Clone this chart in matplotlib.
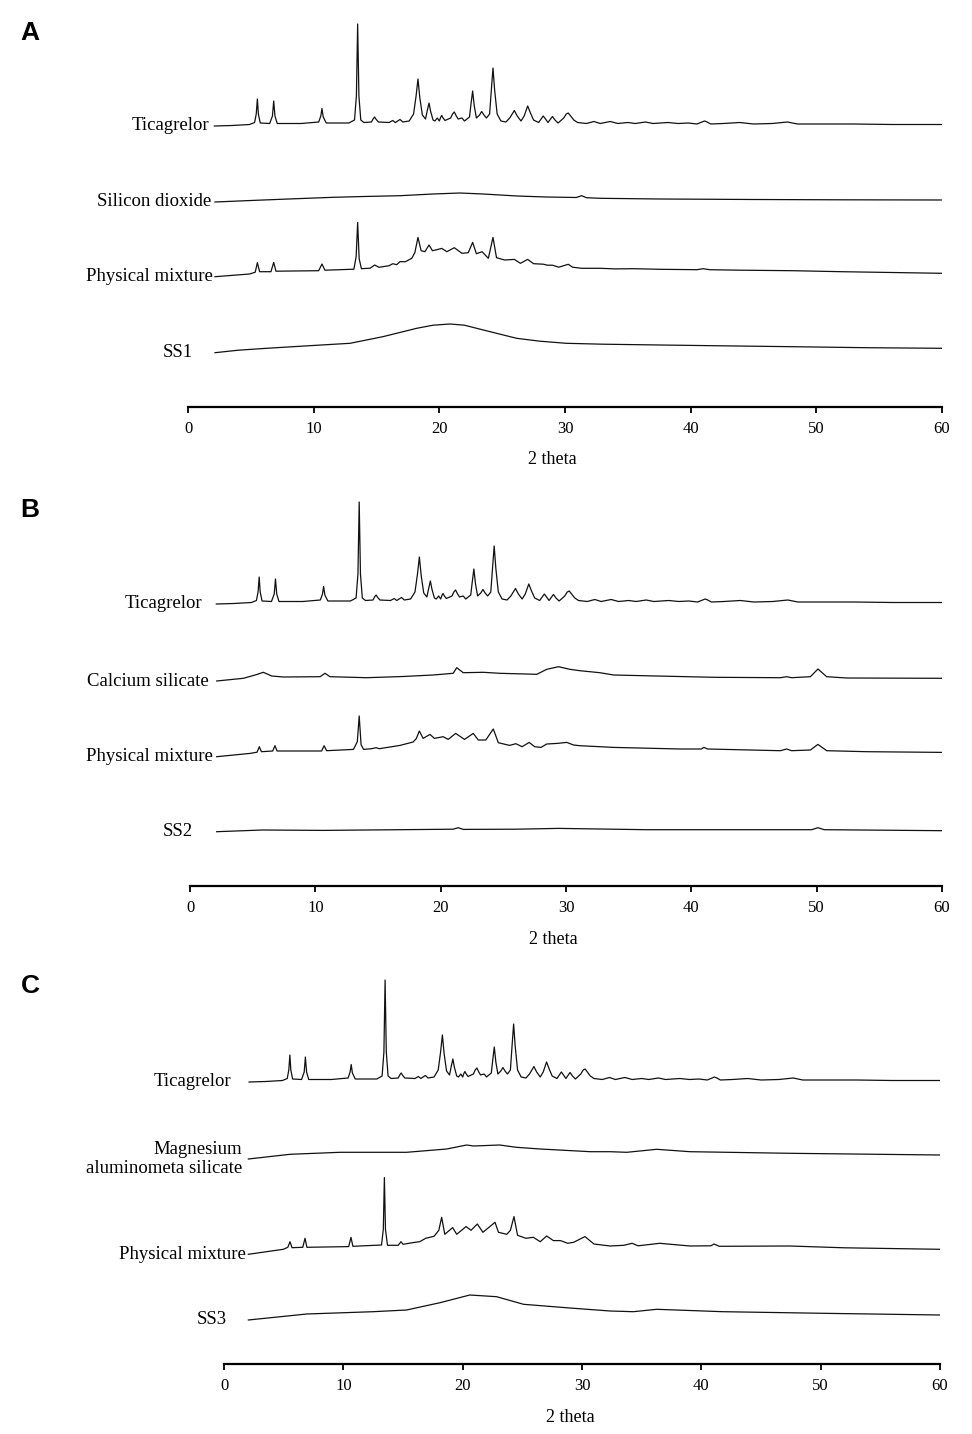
import numpy as np
import matplotlib.pyplot as plt

# XRD patterns, (2theta, relative intensity)
ticagrelor = [(2.1, 0), (3.5, 0.5), (4.9, 1.5), (5.3, 3.5), (5.43, 12), (5.52, 27), (5.6, 12), (5.75, 3),
              (6.5, 2.5), (6.72, 10), (6.82, 25), (6.92, 10), (7.1, 2.5), (9.0, 2.5), (10.4, 4), (10.57, 10),
              (10.66, 17.5), (10.76, 9), (11.0, 3), (12.8, 3), (13.25, 6), (13.4, 30), (13.5, 102), (13.6, 30),
              (13.75, 6), (14.0, 3.5), (14.6, 4), (14.75, 7.5), (14.85, 9), (14.95, 7), (15.15, 4), (16.0, 3.5),
              (16.29, 5.5), (16.5, 3.5), (16.87, 6.5), (17.1, 4), (17.6, 5), (17.95, 12), (18.15, 30), (18.3, 47),
              (18.45, 28), (18.65, 11), (18.9, 7), (19.05, 16), (19.18, 23), (19.3, 15), (19.5, 6), (19.65, 5),
              (19.84, 8), (20.0, 5), (20.1, 8.5), (20.19, 10.5), (20.3, 8), (20.45, 5.5), (20.9, 8), (21.05, 12),
              (21.19, 14), (21.35, 10), (21.5, 7), (21.8, 8), (22.0, 5), (22.4, 9), (22.52, 22), (22.65, 35),
              (22.78, 20), (22.95, 8), (23.2, 11), (23.37, 14.5), (23.55, 11), (23.75, 8), (24.0, 12),
              (24.15, 38), (24.27, 58), (24.4, 36), (24.6, 12), (24.9, 5), (25.3, 4), (25.6, 8), (25.97, 15.5),
              (26.2, 10), (26.5, 5), (26.75, 10), (27.03, 20), (27.25, 13), (27.5, 6), (27.9, 3.5), (28.1, 7),
              (28.27, 10), (28.45, 7), (28.65, 3.5), (28.85, 7), (29.0, 9.5), (29.2, 6), (29.45, 3), (29.9, 8),
              (30.1, 12), (30.26, 13), (30.45, 10), (30.7, 6), (31.0, 3.5), (31.7, 2.5), (32.3, 4.5), (32.8, 2.5),
              (33.6, 4.5), (34.2, 2.5), (35.0, 3.5), (35.6, 2.5), (36.4, 4), (37.0, 2.5), (38.2, 3.5), (39.0, 2.5),
              (39.8, 3), (40.5, 2), (40.9, 4), (41.1, 5), (41.3, 4), (41.6, 2), (42.6, 2.5), (43.9, 3.5),
              (45.0, 2), (46.5, 2.5), (47.7, 4), (48.5, 2), (50.5, 2), (53.0, 2), (56.0, 1.5), (60.0, 1.5)]

silicon_dioxide = [(2.15, 0), (5, 1.5), (8, 3), (11.56, 4.7), (14, 5.5), (16.87, 6.3), (19.5, 8), (21.64, 9),
                   (23.47, 8), (26.2, 6), (28.5, 5), (30.9, 4.5), (31.33, 6.3), (31.7, 4.3), (32.8, 3.7),
                   (37.56, 3), (45, 2.5), (52, 2.2), (60, 2)]

pm_a = [(2.15, 0), (4.9, 2.7), (5.35, 4.5), (5.52, 14), (5.7, 5), (6.6, 5), (6.82, 14.3), (7.0, 5.5), (10.4, 6),
        (10.66, 12.7), (10.9, 6.5), (13.2, 7.5), (13.38, 20), (13.5, 54.3), (13.62, 18), (13.8, 8), (14.5, 8.5),
        (14.85, 11.7), (15.2, 9.4), (16.0, 11), (16.3, 13), (16.6, 12), (16.87, 15), (17.3, 15), (17.8, 18.3),
        (18.05, 24), (18.3, 39.3), (18.55, 26), (18.85, 25), (19.18, 31.7), (19.45, 26), (19.8, 27),
        (20.19, 28.3), (20.6, 25), (21.19, 29), (21.8, 23.4), (22.3, 24), (22.65, 34.3), (22.95, 23),
        (23.4, 25), (23.9, 18.4), (24.27, 39.3), (24.55, 19), (25.2, 16.7), (25.97, 17.3), (26.45, 13.4),
        (27.03, 17.3), (27.5, 13), (28.27, 12.5), (28.6, 11.5), (29.0, 11.5), (29.5, 9.5), (30.26, 12.4),
        (30.6, 9.5), (31.33, 8.4), (32.8, 8.4), (34, 7.8), (35.5, 8), (37.56, 7.4), (40.5, 7), (41.0, 8),
        (41.5, 7), (44, 6.5), (48.1, 6), (52, 5), (56, 4.2), (60, 3.4)]

ss1 = [(2.15, 0), (4, 2.5), (6.26, 4.4), (9, 6.5), (12.9, 9.4), (15.5, 16), (18.2, 24.4), (19.5, 27.5),
       (20.85, 28.7), (22, 27.5), (23.5, 22.7), (26.15, 14.4), (28, 11.5), (30.1, 9.4), (33, 8.5),
       (37.56, 7.7), (43, 6.8), (48.1, 6), (54, 5), (60, 4.4)]

calcium_silicate = [(2.13, 0), (4.26, 2.7), (5.2, 6), (5.85, 8.7), (6.52, 5), (7.45, 4), (10.38, 4.3),
                    (10.77, 7.7), (11.17, 4.3), (14.1, 3.3), (17, 4.5), (19.4, 6), (21.0, 7.7), (21.28, 13.3),
                    (21.8, 8.3), (23.4, 8.7), (24.7, 7.7), (27.67, 6.7), (28.47, 11.7), (29.4, 14.3),
                    (30.3, 11.7), (31.1, 10.3), (32.7, 8.3), (33.8, 6), (37.2, 5), (41.8, 3.7), (47.1, 3.3),
                    (47.6, 4.3), (48.0, 3.3), (49.5, 4.3), (50.1, 12), (50.8, 4.3), (52.4, 3), (60.1, 2.7)]

pm_b = [(2.13, 0), (4.79, 3.3), (5.35, 4.5), (5.53, 10), (5.7, 5), (6.6, 5.7), (6.78, 11), (6.95, 5.7),
        (10.5, 5.7), (10.7, 11), (10.9, 6), (13.04, 7.3), (13.35, 15), (13.5, 40.7), (13.65, 12), (13.85, 7.3),
        (14.5, 8), (14.84, 9), (15.1, 8), (16.76, 11.3), (17.8, 14.7), (18.05, 18), (18.3, 25.7), (18.6, 18.3),
        (19.15, 22.3), (19.5, 18.3), (20.2, 20), (20.6, 17.3), (21.2, 23.3), (21.9, 17.3), (22.6, 23.3),
        (23.0, 16.7), (23.6, 16.7), (24.2, 27.7), (24.6, 14), (25.5, 11.3), (26.0, 13), (26.5, 10),
        (27.06, 14.3), (27.5, 10), (28.0, 9.3), (28.47, 12.7), (29.3, 13.3), (30.06, 14.3), (30.6, 11.7),
        (31.1, 11), (32.7, 10), (33.8, 9.3), (39.1, 7.7), (40.8, 7.7), (41.0, 9.3), (41.3, 7.7), (47.1, 6),
        (47.6, 7.7), (48.0, 6), (49.5, 6.7), (50.1, 12.3), (50.8, 6), (54, 5), (60.1, 4.3)]

ss2 = [(2.13, 0), (5.8, 1.7), (10.6, 1.3), (19.4, 2.3), (21.0, 2.5), (21.4, 4), (21.8, 2.3), (26, 2.5),
       (29.4, 3.3), (32.7, 2.7), (36.4, 2), (47.1, 2), (49.6, 2), (50.1, 4), (50.6, 2), (60.1, 1)]

mg_silicate = [(2.04, 0), (5.53, 4.7), (9.72, 6.7), (15.3, 6.7), (18.66, 10), (20.34, 14), (20.9, 13),
               (23.1, 14), (24.5, 11.7), (26.5, 10), (30.7, 7.3), (32.35, 7.3), (33.75, 6.7), (36.26, 9.7),
               (39.05, 7.3), (47.4, 5.7), (60, 4)]

pm_c = [(2.04, 0), (4.97, 5), (5.35, 7), (5.53, 12.6), (5.7, 6.6), (6.6, 7), (6.79, 16), (6.95, 7),
        (10.45, 7.7), (10.64, 17), (10.8, 8), (13.2, 9.3), (13.35, 25), (13.44, 76.7), (13.53, 25), (13.7, 9),
        (14.6, 9), (14.83, 12.6), (15.0, 10), (16.0, 12), (16.4, 12.6), (16.9, 16), (17.6, 18), (18.0, 24),
        (18.24, 37), (18.5, 20), (19.16, 26.7), (19.5, 20), (20.28, 27.7), (20.7, 24), (21.23, 30.3),
        (21.7, 22), (22.71, 32), (23.0, 22), (23.7, 20), (24.0, 24), (24.3, 37.7), (24.6, 19), (25.3, 16),
        (25.92, 17), (26.5, 12.6), (27.04, 18.3), (27.6, 13.7), (28.2, 13.7), (28.8, 11), (29.3, 12),
        (30.25, 17.7), (31.0, 10.3), (32.35, 8.3), (33.5, 9), (34.2, 11), (34.7, 8.5), (36.5, 11),
        (39.05, 8.3), (40.8, 8.5), (41.06, 10.3), (41.5, 8), (47.4, 8.3), (52, 6.5), (60, 5)]

ss3 = [(2.04, 0), (6.93, 6), (12.5, 8.3), (15.3, 10), (18.1, 17.3), (20.6, 25), (22.85, 23.3), (25.1, 15.7),
       (29.3, 11.7), (32.35, 9), (34.3, 8.3), (36.26, 10.7), (41.8, 8.3), (50.2, 6.7), (60, 5)]

panels = [
    ("A", [ticagrelor, silicon_dioxide, pm_a, ss1],
     ["Ticagrelor", "Silicon dioxide", "Physical mixture", "SS1"]),
    ("B", [ticagrelor, calcium_silicate, pm_b, ss2],
     ["Ticagrelor", "Calcium silicate", "Physical mixture", "SS2"]),
    ("C", [ticagrelor, mg_silicate, pm_c, ss3],
     ["Ticagrelor", "Magnesium\naluminometa silicate", "Physical mixture", "SS3"]),
]

# layout (pixels of the 972x1434 figure)
W, H = 972, 1434
axis_px = [(188, 942, 407), (190, 942, 886), (224, 940, 1364)]
offsets = [[281, 205, 130.3, 54.3], [282, 205, 129.3, 54.3], [282, 205, 109.7, 44]]
label_x = [[1.67, 1.83, 1.99, 0.4], [0.96, 1.52, 1.84, 0.24], [0.59, 1.51, 1.84, 0.25]]
letter_y = [33, 510, 986]
span = 390

serif = ["Liberation Serif", "DejaVu Serif"]
fig = plt.figure(figsize=(W / 100, H / 100), dpi=100)

for i, (letter, traces, names) in enumerate(panels):
    x0, x1, yb = axis_px[i]
    ax = fig.add_axes([x0 / W, 1 - yb / H, (x1 - x0) / W, span / H])
    ax.patch.set_alpha(0)
    for tr, off, name, lx in zip(traces, offsets[i], names, label_x[i]):
        d = np.array(tr)
        ax.plot(d[:, 0], d[:, 1] + off, color="#111111", lw=0.9)
        ax.text(lx, off, name, ha="right", va="center", multialignment="right",
                family=serif, fontsize=13.5, clip_on=False)
    ax.set_xlim(0, 60)
    ax.set_ylim(0, span)
    for s in ["left", "right", "top"]:
        ax.spines[s].set_visible(False)
    ax.spines["bottom"].set_linewidth(1.6)
    ax.set_yticks([])
    ax.set_xticks(range(0, 61, 10))
    ax.tick_params(axis="x", direction="out", length=4, width=1.3, pad=6, labelsize=12)
    for t in ax.get_xticklabels():
        t.set_family(serif)
    ax.text(29, -53, "2 theta", ha="center", va="center", family=serif, fontsize=13, clip_on=False)
    fig.text(30 / W, 1 - letter_y[i] / H, letter, ha="center", va="center",
             family=["Liberation Sans", "DejaVu Sans"], fontweight="bold", fontsize=19)

fig.savefig("out.png", dpi=100)
